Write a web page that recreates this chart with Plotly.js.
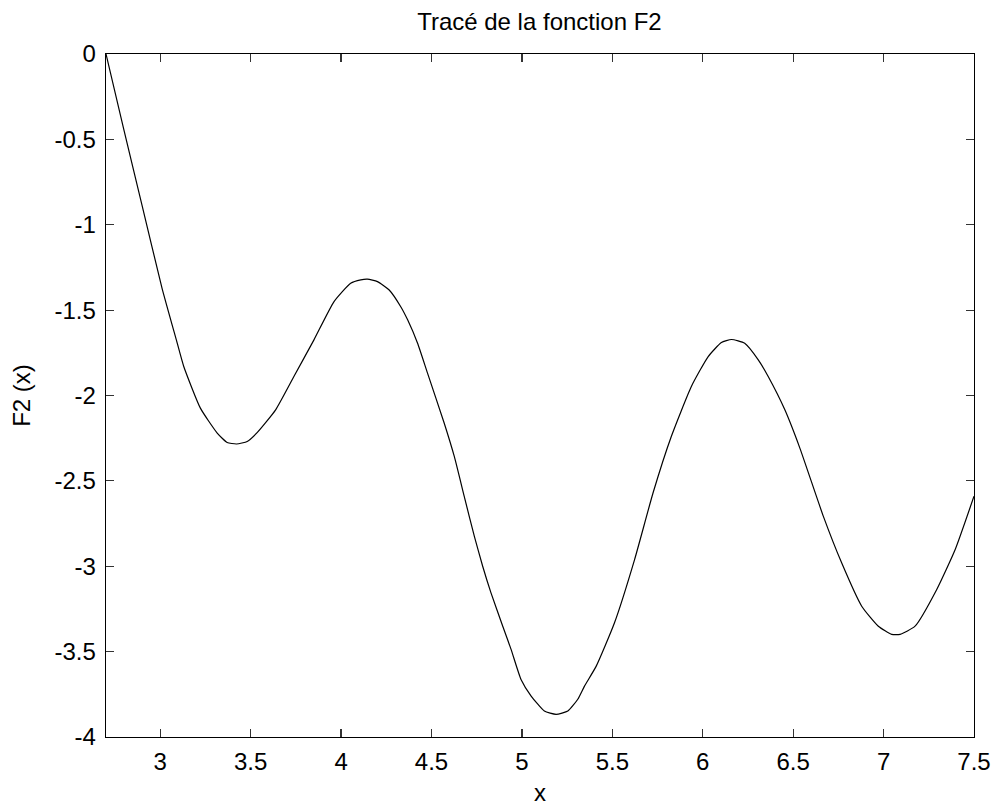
<!DOCTYPE html>
<html>
<head>
<meta charset="utf-8">
<script src="https://cdn.plot.ly/plotly-3.0.1.min.js"></script>
<style>html,body{margin:0;padding:0;background:#fff;}#chart{width:998px;height:809px;}</style>
</head>
<body>
<div id="chart"></div>
<script>
const xValues = [2.70, 2.797, 2.899, 3.010, 3.089, 3.130, 3.222, 3.315, 3.370, 3.422, 3.481, 3.537, 3.638, 3.739, 3.850, 3.961, 4.053, 4.109, 4.146, 4.201, 4.266, 4.330, 4.368, 4.423, 4.478, 4.570, 4.626, 4.681, 4.737, 4.783, 4.829, 4.894, 4.940, 4.995, 5.051, 5.124, 5.189, 5.254, 5.309, 5.346, 5.411, 5.512, 5.623, 5.725, 5.826, 5.937, 6.030, 6.103, 6.159, 6.232, 6.307, 6.362, 6.454, 6.537, 6.667, 6.768, 6.879, 6.971, 7.045, 7.091, 7.174, 7.294, 7.396, 7.50];
const yValues = [0, -0.436, -0.885, -1.372, -1.674, -1.830, -2.074, -2.220, -2.275, -2.284, -2.269, -2.216, -2.084, -1.889, -1.674, -1.450, -1.343, -1.323, -1.319, -1.333, -1.382, -1.480, -1.557, -1.694, -1.869, -2.161, -2.357, -2.591, -2.825, -3.000, -3.156, -3.351, -3.487, -3.663, -3.760, -3.848, -3.867, -3.848, -3.779, -3.702, -3.585, -3.331, -2.961, -2.571, -2.240, -1.947, -1.772, -1.690, -1.672, -1.694, -1.791, -1.889, -2.084, -2.308, -2.708, -2.980, -3.234, -3.351, -3.399, -3.399, -3.351, -3.136, -2.902, -2.59];
const xTickVals = [3, 3.5, 4, 4.5, 5, 5.5, 6, 6.5, 7, 7.5];
const xTickText = ["3", "3.5", "4", "4.5", "5", "5.5", "6", "6.5", "7", "7.5"];
const yTickVals = [0, -0.5, -1, -1.5, -2, -2.5, -3, -3.5, -4];
const yTickText = ["0", "-0.5", "-1", "-1.5", "-2", "-2.5", "-3", "-3.5", "-4"];
const titleText = "Tracé de la fonction F2";
const xLabel = "x";
const yLabel = "F2 (x)";

const font = {family: "Liberation Sans, Arial, sans-serif", size: 24, color: "#000"};

const trace = {
  x: xValues, y: yValues, type: "scatter", mode: "lines",
  line: {color: "#000", width: 1.2, shape: "spline", smoothing: 0.5}, hoverinfo: "none"
};

const axisCommon = {
  showgrid: false, zeroline: false, showline: true, linecolor: "#000", linewidth: 1.3,
  mirror: "ticks", ticks: "inside", ticklen: 8, tickwidth: 1.2, tickcolor: "#333",
  tickfont: font, tickmode: "array"
};

const layout = {
  width: 998, height: 809,
  paper_bgcolor: "#fff", plot_bgcolor: "#fff",
  margin: {l: 106, r: 24, t: 54, b: 72, pad: 0},
  showlegend: false,
  title: {text: titleText, font: font, x: 0.5405, xanchor: "center", yref: "container", y: 0.973, yanchor: "middle"},
  xaxis: Object.assign({}, axisCommon, {
    range: [2.7, 7.5], tickvals: xTickVals, ticktext: xTickText, ticklabelstandoff: 3,
    title: {text: xLabel, font: font, standoff: 10}
  }),
  yaxis: Object.assign({}, axisCommon, {
    range: [-4, 0], tickvals: yTickVals, ticktext: yTickText, ticklabelstandoff: 4,
    title: {text: yLabel, font: font, standoff: 17}
  })
};

Plotly.newPlot("chart", [trace], layout, {displayModeBar: false, staticPlot: true});
</script>
</body>
</html>
